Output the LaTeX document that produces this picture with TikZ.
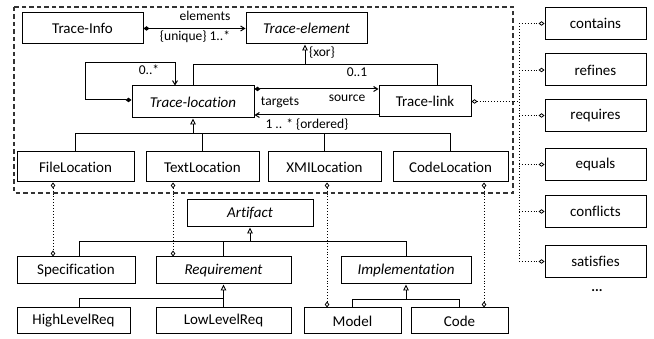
\documentclass[tikz,border=0pt]{standalone}
\usepackage{fontspec}
\setmainfont{Carlito}[Ligatures={NoCommon}]
\usetikzlibrary{arrows.meta}
\tikzset{
  box/.style={draw, line width=1pt, inner sep=0pt, font=\fontsize{15}{17}\selectfont},
  lbl/.style={inner sep=0pt, font=\fontsize{13.5}{15}\selectfont},
  ln/.style={line width=1pt},
  dot/.style={line width=0.9pt, dotted},
  gen/.style={ln, -{Triangle[open, length=6pt, width=5.5pt, line width=0.9pt]}},
  assoc/.style={ln, {Diamond[length=6pt, width=4.5pt]}-{Straight Barb[length=4pt, width=5pt]}},
  odia/.style={dot, {Diamond[open, length=6pt, width=4.5pt, line width=0.8pt]}-{Diamond[open, length=6pt, width=4.5pt, line width=0.8pt]}},
  odiaend/.style={dot, -{Diamond[open, length=6pt, width=4.5pt, line width=0.8pt]}},
  odiastart/.style={dot, {Diamond[open, length=6pt, width=4.5pt, line width=0.8pt]}-},
}
\begin{document}
\begin{tikzpicture}[x=1pt, y=-1pt]
\useasboundingbox (0,0) rectangle (654,339);
% dashed frame
\draw[line width=1.1pt, draw=black!80, dash pattern=on 4.5pt off 3pt] (14,7) rectangle (513,193);

% top group
\node[box, minimum width=121pt, minimum height=31pt] (TInfo) at (82.5,28.5) {Trace-Info};
\node[box, minimum width=121pt, minimum height=31pt] (TElem) at (306.5,28.5) {\itshape Trace-element};
\node[box, minimum width=122pt, minimum height=32pt] (TLoc) at (193,102) {\itshape Trace-location};
\node[box, minimum width=92pt, minimum height=31pt] (TLink) at (425,101.5) {Trace-link};

\node[box, minimum width=117pt, minimum height=30pt] (FileLoc) at (75.5,167) {FileLocation};
\node[box, minimum width=113pt, minimum height=30pt] (TextLoc) at (202.5,167) {TextLocation};
\node[box, minimum width=113pt, minimum height=30pt] (XMILoc) at (324.5,167) {XMILocation};
\node[box, minimum width=115pt, minimum height=30pt] (CodeLoc) at (450.5,167) {CodeLocation};

% lower group
\node[box, minimum width=126pt, minimum height=27pt] (Art) at (250,213.5) {\itshape Artifact};
\node[box, minimum width=118pt, minimum height=27pt] (Spec) at (76,270.5) {Specification};
\node[box, minimum width=135pt, minimum height=27pt] (Req) at (223.5,270.5) {\itshape Requirement};
\node[box, minimum width=130pt, minimum height=27pt] (Impl) at (406,270.5) {\itshape Implementation};
\node[box, minimum width=113pt, minimum height=26pt] (HLR) at (73.5,321) {HighLevelReq};
\node[box, minimum width=135pt, minimum height=26pt] (LLR) at (223.5,321) {LowLevelReq};
\node[box, minimum width=97pt, minimum height=26pt] (Model) at (352.5,321) {Model};
\node[box, minimum width=97pt, minimum height=26pt] (Code) at (459.5,321) {Code};

% right column
\node[box, minimum width=101pt, minimum height=32pt] (contains) at (595.5,23.5) {contains};
\node[box, minimum width=101pt, minimum height=32pt] (refines) at (595.5,70) {refines};
\node[box, minimum width=101pt, minimum height=32pt] (requires) at (595.5,115.5) {requires};
\node[box, minimum width=101pt, minimum height=32pt] (equals) at (595.5,164.5) {equals};
\node[box, minimum width=101pt, minimum height=32pt] (conflicts) at (595.5,211.5) {conflicts};
\node[box, minimum width=101pt, minimum height=32pt] (satisfies) at (595.5,261.5) {satisfies};
\node[lbl, font=\fontsize{14}{16}\selectfont\bfseries] (dots) at (597,291) {...};

% elements association
\draw[assoc] (TInfo.east) -- (TElem.west);
\node[lbl] (elab) at (205,16) {elements};
\node[lbl] (ulab) at (195,37) {\{unique\} 1..*};

% xor generalization
\coordinate (xj) at (305,65);
\draw[ln] (TLoc.north) |- ([xshift=12pt]TLink.north |- xj) -- ([xshift=12pt]TLink.north);
\draw[gen] (xj) -- (xj |- TElem.south);
\node[lbl] (xorlab) at (322,53) {\{xor\}};
\node[lbl] (zolab) at (357,72) {0..1};

% self loop
\coordinate (lc) at (85,63);
\draw[assoc] ([yshift=2pt]TLoc.west) -| (lc) -| ([xshift=-18pt]TLoc.north);
\node[lbl] (zslab) at (149,70) {0..*};

% targets / source
\draw[assoc] ([yshift=13pt]TLoc.east) -- ([yshift=12.5pt]TLink.west);
\draw[ln, -{Straight Barb[length=4pt, width=5pt]}] ([yshift=-13.5pt]TLink.west) -- ([yshift=-13pt]TLoc.east);
\node[lbl] (tglab) at (280,102) {targets};
\node[lbl] (srlab) at (347,98) {source};
\node[lbl] (orlab) at (307,125) {1 .. * \{ordered\}};

% location generalization
\coordinate (bA) at (193,134);
\draw[gen] (bA) -- (TLoc.south);
\draw[ln] (FileLoc.north) |- (CodeLoc.north |- bA) -- (CodeLoc.north);
\draw[ln] (TextLoc.north) -- (TextLoc.north |- bA);
\draw[ln] (XMILoc.north) -- (XMILoc.north |- bA);

% artifact generalization
\coordinate (bB) at (250,242);
\draw[gen] (bB) -- (Art.south);
\draw[ln] ([xshift=3pt]Spec.north) |- (Impl.north |- bB) -- (Impl.north);
\draw[ln] (Req.north) -- (Req.north |- bB);

% requirement generalization
\coordinate (bC) at (223.5,299);
\draw[gen] (bC) -- (Req.south);
\draw[ln] ([xshift=5.5pt]HLR.north) |- (bC) -- (LLR.north);

% implementation generalization
\coordinate (bD) at (406,300);
\draw[gen] (bD) -- (Impl.south);
\draw[ln] (Model.north) |- (Code.north |- bD) -- (Code.north);

% dotted trace connections
\draw[odia] ([xshift=-22.5pt]FileLoc.south) -- ([xshift=-23pt]Spec.north);
\draw[odia] ([xshift=-29.5pt]TextLoc.south) -- ([xshift=-50.5pt]Req.north);
\draw[odia] ([xshift=2.5pt]XMILoc.south) -- ([xshift=-25.5pt]Model.north);
\draw[odia] ([xshift=33.5pt]CodeLoc.south) -- ([xshift=24.5pt]Code.north);

% trace-link kinds
\coordinate (vt) at (519,23.5);
\coordinate (vb) at (519,261.5);
\draw[odiastart] (TLink.east) -- (TLink.east -| vt);
\draw[dot] (vt) -- (vb);
\foreach \n in {contains,refines,requires,equals,conflicts,satisfies}
  \draw[odiaend] (\n.west -| vt) -- (\n.west);
\end{tikzpicture}
\end{document}
